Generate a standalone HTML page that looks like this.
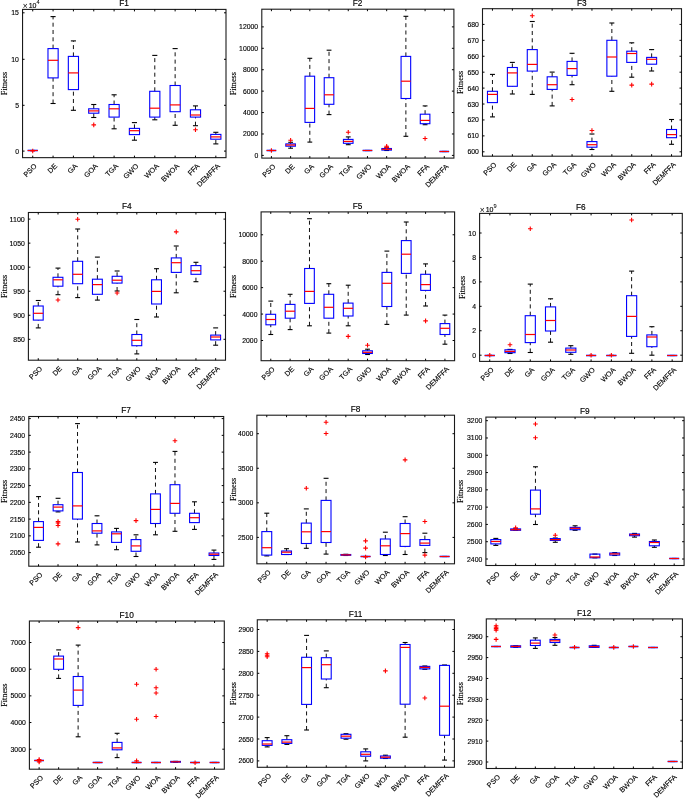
<!DOCTYPE html>
<html><head><meta charset="utf-8"><title>Box plots F1-F12</title>
<style>
html,body{margin:0;padding:0;background:#fff;}
svg{display:block;will-change:transform;}
text{font-family:"Liberation Sans",sans-serif;fill:#000;stroke:#000;stroke-width:0.15px;}
.w{stroke:#111;stroke-width:1;stroke-dasharray:4 3.3;fill:none;}
.c{stroke:#000;stroke-width:1.1;fill:none;}
.b{stroke:#0000ff;stroke-width:1.1;fill:none;}
.bl{stroke:#0000ff;stroke-width:1.6;fill:none;}
.mf{stroke:#ff0000;stroke-width:1;fill:none;}
.m{stroke:#ff0000;stroke-width:1.2;fill:none;}
.o{stroke:#ff0000;stroke-width:1.1;fill:none;}
.ax{stroke:#1a1a1a;stroke-width:1.1;fill:none;}
.tk{stroke:#000;stroke-width:1;fill:none;}
.yl{font-size:7.6px;text-anchor:end;}
.xl{font-size:7.2px;text-anchor:end;}
.ti{font-size:8.3px;text-anchor:middle;}
.yla{font-family:"Liberation Serif",serif;font-size:8.2px;text-anchor:middle;}
.ex{font-size:7.0px;}
.sup{font-size:5.6px;stroke-width:0.05px;}
.tm{font-size:8.4px;stroke-width:0;}
</style></head>
<body>
<svg width="685" height="799" viewBox="0 0 685 799">
<rect width="685" height="799" fill="#fff"/>
<line x1="30.18" y1="150.5" x2="35.27" y2="150.5" class="c"/><line x1="30.18" y1="150.5" x2="35.27" y2="150.5" class="c"/><line x1="27.64" y1="150.5" x2="37.81" y2="150.5" class="bl"/><line x1="27.64" y1="150.5" x2="37.81" y2="150.5" class="mf"/><path d="M30.42 151h4.6M32.72 148.7v4.6" class="o"/>
<line x1="53.07" y1="48.6" x2="53.07" y2="16.6" class="w"/><line x1="53.07" y1="103.5" x2="53.07" y2="77.9" class="w"/><line x1="50.52" y1="16.6" x2="55.61" y2="16.6" class="c"/><line x1="50.52" y1="103.5" x2="55.61" y2="103.5" class="c"/><rect x="47.98" y="48.6" width="10.17" height="29.3" class="b"/><line x1="47.98" y1="60.3" x2="58.15" y2="60.3" class="m"/>
<line x1="73.41" y1="56.4" x2="73.41" y2="40.9" class="w"/><line x1="73.41" y1="110.3" x2="73.41" y2="89.6" class="w"/><line x1="70.87" y1="40.9" x2="75.96" y2="40.9" class="c"/><line x1="70.87" y1="110.3" x2="75.96" y2="110.3" class="c"/><rect x="68.33" y="56.4" width="10.17" height="33.2" class="b"/><line x1="68.33" y1="72.9" x2="78.5" y2="72.9" class="m"/>
<line x1="93.76" y1="108.8" x2="93.76" y2="104.5" class="w"/><line x1="93.76" y1="117.5" x2="93.76" y2="113.2" class="w"/><line x1="91.21" y1="104.5" x2="96.3" y2="104.5" class="c"/><line x1="91.21" y1="117.5" x2="96.3" y2="117.5" class="c"/><rect x="88.67" y="108.8" width="10.17" height="4.4" class="b"/><line x1="88.67" y1="110.9" x2="98.84" y2="110.9" class="m"/><path d="M91.46 124.9h4.6M93.76 122.6v4.6" class="o"/>
<line x1="114.1" y1="104.5" x2="114.1" y2="94.8" class="w"/><line x1="114.1" y1="128.8" x2="114.1" y2="117.1" class="w"/><line x1="111.56" y1="94.8" x2="116.65" y2="94.8" class="c"/><line x1="111.56" y1="128.8" x2="116.65" y2="128.8" class="c"/><rect x="109.02" y="104.5" width="10.17" height="12.6" class="b"/><line x1="109.02" y1="108.8" x2="119.19" y2="108.8" class="m"/>
<line x1="134.45" y1="128.4" x2="134.45" y2="122.6" class="w"/><line x1="134.45" y1="140.2" x2="134.45" y2="134.6" class="w"/><line x1="131.9" y1="122.6" x2="136.99" y2="122.6" class="c"/><line x1="131.9" y1="140.2" x2="136.99" y2="140.2" class="c"/><rect x="129.36" y="128.4" width="10.17" height="6.2" class="b"/><line x1="129.36" y1="130.7" x2="139.53" y2="130.7" class="m"/>
<line x1="154.79" y1="91.3" x2="154.79" y2="55.4" class="w"/><line x1="154.79" y1="119.8" x2="154.79" y2="117.1" class="w"/><line x1="152.25" y1="55.4" x2="157.34" y2="55.4" class="c"/><line x1="152.25" y1="119.8" x2="157.34" y2="119.8" class="c"/><rect x="149.71" y="91.3" width="10.17" height="25.8" class="b"/><line x1="149.71" y1="108.2" x2="159.88" y2="108.2" class="m"/>
<line x1="175.14" y1="85.5" x2="175.14" y2="48.6" class="w"/><line x1="175.14" y1="125.3" x2="175.14" y2="111.7" class="w"/><line x1="172.59" y1="48.6" x2="177.68" y2="48.6" class="c"/><line x1="172.59" y1="125.3" x2="177.68" y2="125.3" class="c"/><rect x="170.05" y="85.5" width="10.17" height="26.2" class="b"/><line x1="170.05" y1="104.9" x2="180.22" y2="104.9" class="m"/>
<line x1="195.48" y1="109.8" x2="195.48" y2="105.9" class="w"/><line x1="195.48" y1="125.7" x2="195.48" y2="117.1" class="w"/><line x1="192.94" y1="105.9" x2="198.03" y2="105.9" class="c"/><line x1="192.94" y1="125.7" x2="198.03" y2="125.7" class="c"/><rect x="190.4" y="109.8" width="10.17" height="7.3" class="b"/><line x1="190.4" y1="115" x2="200.57" y2="115" class="m"/><path d="M193.18 129.7h4.6M195.48 127.4v4.6" class="o"/>
<line x1="215.83" y1="134.4" x2="215.83" y2="132.3" class="w"/><line x1="215.83" y1="143.9" x2="215.83" y2="139.2" class="w"/><line x1="213.28" y1="132.3" x2="218.37" y2="132.3" class="c"/><line x1="213.28" y1="143.9" x2="218.37" y2="143.9" class="c"/><rect x="210.74" y="134.4" width="10.17" height="4.8" class="b"/><line x1="210.74" y1="136.9" x2="220.91" y2="136.9" class="m"/>
<rect x="22.55" y="9.4" width="203.45" height="148.25" class="ax"/>
<path d="M32.72 157.65v-2M32.72 9.4v2M53.07 157.65v-2M53.07 9.4v2M73.41 157.65v-2M73.41 9.4v2M93.76 157.65v-2M93.76 9.4v2M114.1 157.65v-2M114.1 9.4v2M134.45 157.65v-2M134.45 9.4v2M154.79 157.65v-2M154.79 9.4v2M175.14 157.65v-2M175.14 9.4v2M195.48 157.65v-2M195.48 9.4v2M215.83 157.65v-2M215.83 9.4v2M22.55 151.1h2M226 151.1h-2M22.55 105.3h2M226 105.3h-2M22.55 59.3h2M226 59.3h-2M22.55 12.8h2M226 12.8h-2" class="tk"/>
<text x="18.95" y="153.6" class="yl" textLength="3.82" lengthAdjust="spacingAndGlyphs">0</text>
<text x="18.95" y="107.8" class="yl" textLength="3.82" lengthAdjust="spacingAndGlyphs">5</text>
<text x="18.95" y="61.8" class="yl" textLength="7.64" lengthAdjust="spacingAndGlyphs">10</text>
<text x="18.95" y="15.3" class="yl" textLength="7.64" lengthAdjust="spacingAndGlyphs">15</text>
<text x="37.22" y="166.65" class="xl" transform="rotate(-45 37.22 166.65)">PSO</text>
<text x="57.57" y="166.65" class="xl" transform="rotate(-45 57.57 166.65)">DE</text>
<text x="77.91" y="166.65" class="xl" transform="rotate(-45 77.91 166.65)">GA</text>
<text x="98.26" y="166.65" class="xl" transform="rotate(-45 98.26 166.65)">GOA</text>
<text x="118.6" y="166.65" class="xl" transform="rotate(-45 118.6 166.65)">TGA</text>
<text x="138.95" y="166.65" class="xl" transform="rotate(-45 138.95 166.65)">GWO</text>
<text x="159.29" y="166.65" class="xl" transform="rotate(-45 159.29 166.65)">WOA</text>
<text x="179.64" y="166.65" class="xl" transform="rotate(-45 179.64 166.65)">BWOA</text>
<text x="199.98" y="166.65" class="xl" transform="rotate(-45 199.98 166.65)">FFA</text>
<text x="220.33" y="166.65" class="xl" transform="rotate(-45 220.33 166.65)">DEMFFA</text>
<text x="124.08" y="6.3" class="ti">F1</text>
<text x="7.3" y="83.53" class="yla" transform="rotate(-90 7.3 83.53)">Fitness</text>
<text x="22.75" y="7.6" class="ex"><tspan class="tm" dy="1.2">&#215;</tspan><tspan dx="1" dy="-1.2">10</tspan><tspan dy="-3.6" class="sup">4</tspan></text>
<line x1="269" y1="150.5" x2="273.81" y2="150.5" class="c"/><line x1="269" y1="150.5" x2="273.81" y2="150.5" class="c"/><line x1="266.6" y1="150.5" x2="276.21" y2="150.5" class="bl"/><line x1="266.6" y1="150.5" x2="276.21" y2="150.5" class="mf"/><path d="M269.11 150.5h4.6M271.41 148.2v4.6" class="o"/>
<line x1="290.62" y1="143.9" x2="290.62" y2="142.3" class="w"/><line x1="290.62" y1="148.2" x2="290.62" y2="146.2" class="w"/><line x1="288.21" y1="142.3" x2="293.02" y2="142.3" class="c"/><line x1="288.21" y1="148.2" x2="293.02" y2="148.2" class="c"/><rect x="285.81" y="143.9" width="9.6" height="2.3" class="b"/><line x1="285.81" y1="145" x2="295.42" y2="145" class="m"/><path d="M288.31 140.2h4.6M290.62 137.9v4.6" class="o"/>
<line x1="309.82" y1="76.2" x2="309.82" y2="58.3" class="w"/><line x1="309.82" y1="142.1" x2="309.82" y2="122.4" class="w"/><line x1="307.42" y1="58.3" x2="312.23" y2="58.3" class="c"/><line x1="307.42" y1="142.1" x2="312.23" y2="142.1" class="c"/><rect x="305.02" y="76.2" width="9.6" height="46.2" class="b"/><line x1="305.02" y1="108.4" x2="314.63" y2="108.4" class="m"/>
<line x1="329.03" y1="77.7" x2="329.03" y2="50.2" class="w"/><line x1="329.03" y1="114.6" x2="329.03" y2="104.3" class="w"/><line x1="326.63" y1="50.2" x2="331.44" y2="50.2" class="c"/><line x1="326.63" y1="114.6" x2="331.44" y2="114.6" class="c"/><rect x="324.23" y="77.7" width="9.6" height="26.6" class="b"/><line x1="324.23" y1="94.8" x2="333.84" y2="94.8" class="m"/>
<line x1="348.25" y1="139.4" x2="348.25" y2="136.9" class="w"/><line x1="348.25" y1="144.7" x2="348.25" y2="143.3" class="w"/><line x1="345.84" y1="136.9" x2="350.65" y2="136.9" class="c"/><line x1="345.84" y1="144.7" x2="350.65" y2="144.7" class="c"/><rect x="343.44" y="139.4" width="9.6" height="3.9" class="b"/><line x1="343.44" y1="141.4" x2="353.05" y2="141.4" class="m"/><path d="M345.94 132.3h4.6M348.25 130v4.6" class="o"/>
<line x1="365.05" y1="150.5" x2="369.86" y2="150.5" class="c"/><line x1="365.05" y1="150.5" x2="369.86" y2="150.5" class="c"/><line x1="362.65" y1="150.5" x2="372.26" y2="150.5" class="bl"/><line x1="362.65" y1="150.5" x2="372.26" y2="150.5" class="mf"/>
<line x1="386.66" y1="148.5" x2="386.66" y2="147.8" class="w"/><line x1="384.26" y1="147.8" x2="389.07" y2="147.8" class="c"/><line x1="384.26" y1="150.5" x2="389.07" y2="150.5" class="c"/><rect x="381.86" y="148.5" width="9.6" height="1.6" class="b"/><line x1="381.86" y1="149.3" x2="391.47" y2="149.3" class="m"/><path d="M384.36 146.2h4.6M386.66 143.9v4.6" class="o"/><path d="M384.36 147.2h4.6M386.66 144.9v4.6" class="o"/>
<line x1="405.88" y1="56.4" x2="405.88" y2="16.3" class="w"/><line x1="405.88" y1="136.3" x2="405.88" y2="98.5" class="w"/><line x1="403.47" y1="16.3" x2="408.28" y2="16.3" class="c"/><line x1="403.47" y1="136.3" x2="408.28" y2="136.3" class="c"/><rect x="401.07" y="56.4" width="9.6" height="42.1" class="b"/><line x1="401.07" y1="81.2" x2="410.68" y2="81.2" class="m"/>
<line x1="425.08" y1="114.2" x2="425.08" y2="105.9" class="w"/><line x1="425.08" y1="124.7" x2="425.08" y2="123.7" class="w"/><line x1="422.68" y1="105.9" x2="427.49" y2="105.9" class="c"/><line x1="422.68" y1="124.7" x2="427.49" y2="124.7" class="c"/><rect x="420.28" y="114.2" width="9.6" height="9.5" class="b"/><line x1="420.28" y1="120.4" x2="429.89" y2="120.4" class="m"/><path d="M422.78 138.5h4.6M425.08 136.2v4.6" class="o"/>
<line x1="441.89" y1="151.5" x2="446.7" y2="151.5" class="c"/><line x1="441.89" y1="151.5" x2="446.7" y2="151.5" class="c"/><line x1="439.49" y1="151.5" x2="449.1" y2="151.5" class="bl"/><line x1="439.49" y1="151.5" x2="449.1" y2="151.5" class="mf"/>
<rect x="261.8" y="9.2" width="192.1" height="148.9" class="ax"/>
<path d="M271.41 158.1v-2M271.41 9.2v2M290.62 158.1v-2M290.62 9.2v2M309.82 158.1v-2M309.82 9.2v2M329.03 158.1v-2M329.03 9.2v2M348.25 158.1v-2M348.25 9.2v2M367.45 158.1v-2M367.45 9.2v2M386.66 158.1v-2M386.66 9.2v2M405.88 158.1v-2M405.88 9.2v2M425.08 158.1v-2M425.08 9.2v2M444.29 158.1v-2M444.29 9.2v2M261.8 155.4h2M453.9 155.4h-2M261.8 133.98h2M453.9 133.98h-2M261.8 112.56h2M453.9 112.56h-2M261.8 91.14h2M453.9 91.14h-2M261.8 69.72h2M453.9 69.72h-2M261.8 48.3h2M453.9 48.3h-2M261.8 26.88h2M453.9 26.88h-2" class="tk"/>
<text x="258.2" y="157.9" class="yl" textLength="3.82" lengthAdjust="spacingAndGlyphs">0</text>
<text x="258.2" y="136.48" class="yl" textLength="15.28" lengthAdjust="spacingAndGlyphs">2000</text>
<text x="258.2" y="115.06" class="yl" textLength="15.28" lengthAdjust="spacingAndGlyphs">4000</text>
<text x="258.2" y="93.64" class="yl" textLength="15.28" lengthAdjust="spacingAndGlyphs">6000</text>
<text x="258.2" y="72.22" class="yl" textLength="15.28" lengthAdjust="spacingAndGlyphs">8000</text>
<text x="258.2" y="50.8" class="yl" textLength="19.1" lengthAdjust="spacingAndGlyphs">10000</text>
<text x="258.2" y="29.38" class="yl" textLength="19.1" lengthAdjust="spacingAndGlyphs">12000</text>
<text x="275.91" y="167.1" class="xl" transform="rotate(-45 275.91 167.1)">PSO</text>
<text x="295.12" y="167.1" class="xl" transform="rotate(-45 295.12 167.1)">DE</text>
<text x="314.32" y="167.1" class="xl" transform="rotate(-45 314.32 167.1)">GA</text>
<text x="333.53" y="167.1" class="xl" transform="rotate(-45 333.53 167.1)">GOA</text>
<text x="352.75" y="167.1" class="xl" transform="rotate(-45 352.75 167.1)">TGA</text>
<text x="371.95" y="167.1" class="xl" transform="rotate(-45 371.95 167.1)">GWO</text>
<text x="391.16" y="167.1" class="xl" transform="rotate(-45 391.16 167.1)">WOA</text>
<text x="410.38" y="167.1" class="xl" transform="rotate(-45 410.38 167.1)">BWOA</text>
<text x="429.58" y="167.1" class="xl" transform="rotate(-45 429.58 167.1)">FFA</text>
<text x="448.79" y="167.1" class="xl" transform="rotate(-45 448.79 167.1)">DEMFFA</text>
<text x="357.65" y="6.1" class="ti">F2</text>
<text x="236.3" y="83.65" class="yla" transform="rotate(-90 236.3 83.65)">Fitness</text>
<line x1="492.45" y1="91.3" x2="492.45" y2="74.4" class="w"/><line x1="492.45" y1="116.9" x2="492.45" y2="102.6" class="w"/><line x1="489.96" y1="74.4" x2="494.94" y2="74.4" class="c"/><line x1="489.96" y1="116.9" x2="494.94" y2="116.9" class="c"/><rect x="487.47" y="91.3" width="9.95" height="11.3" class="b"/><line x1="487.47" y1="94.4" x2="497.43" y2="94.4" class="m"/>
<line x1="512.35" y1="67.5" x2="512.35" y2="62.4" class="w"/><line x1="512.35" y1="94" x2="512.35" y2="86.3" class="w"/><line x1="509.86" y1="62.4" x2="514.84" y2="62.4" class="c"/><line x1="509.86" y1="94" x2="514.84" y2="94" class="c"/><rect x="507.38" y="67.5" width="9.95" height="18.8" class="b"/><line x1="507.38" y1="72.9" x2="517.33" y2="72.9" class="m"/>
<line x1="532.25" y1="49.6" x2="532.25" y2="21.5" class="w"/><line x1="532.25" y1="94.4" x2="532.25" y2="71.1" class="w"/><line x1="529.76" y1="21.5" x2="534.74" y2="21.5" class="c"/><line x1="529.76" y1="94.4" x2="534.74" y2="94.4" class="c"/><rect x="527.27" y="49.6" width="9.95" height="21.5" class="b"/><line x1="527.27" y1="64.4" x2="537.23" y2="64.4" class="m"/><path d="M529.95 15.7h4.6M532.25 13.4v4.6" class="o"/>
<line x1="552.15" y1="76.8" x2="552.15" y2="72.1" class="w"/><line x1="552.15" y1="105.9" x2="552.15" y2="89.4" class="w"/><line x1="549.66" y1="72.1" x2="554.64" y2="72.1" class="c"/><line x1="549.66" y1="105.9" x2="554.64" y2="105.9" class="c"/><rect x="547.17" y="76.8" width="9.95" height="12.6" class="b"/><line x1="547.17" y1="84.7" x2="557.12" y2="84.7" class="m"/>
<line x1="572.05" y1="61.4" x2="572.05" y2="53.3" class="w"/><line x1="572.05" y1="84.7" x2="572.05" y2="75.4" class="w"/><line x1="569.56" y1="53.3" x2="574.54" y2="53.3" class="c"/><line x1="569.56" y1="84.7" x2="574.54" y2="84.7" class="c"/><rect x="567.07" y="61.4" width="9.95" height="14" class="b"/><line x1="567.07" y1="68.6" x2="577.02" y2="68.6" class="m"/><path d="M569.75 99.5h4.6M572.05 97.2v4.6" class="o"/>
<line x1="591.95" y1="141.6" x2="591.95" y2="134" class="w"/><line x1="591.95" y1="149.5" x2="591.95" y2="147.2" class="w"/><line x1="589.46" y1="134" x2="594.44" y2="134" class="c"/><line x1="589.46" y1="149.5" x2="594.44" y2="149.5" class="c"/><rect x="586.98" y="141.6" width="9.95" height="5.6" class="b"/><line x1="586.98" y1="144.7" x2="596.93" y2="144.7" class="m"/><path d="M589.65 130.5h4.6M591.95 128.2v4.6" class="o"/>
<line x1="611.85" y1="40.3" x2="611.85" y2="23" class="w"/><line x1="611.85" y1="91.3" x2="611.85" y2="76.2" class="w"/><line x1="609.36" y1="23" x2="614.34" y2="23" class="c"/><line x1="609.36" y1="91.3" x2="614.34" y2="91.3" class="c"/><rect x="606.88" y="40.3" width="9.95" height="35.9" class="b"/><line x1="606.88" y1="57" x2="616.83" y2="57" class="m"/>
<line x1="631.75" y1="51.2" x2="631.75" y2="42.8" class="w"/><line x1="631.75" y1="77.2" x2="631.75" y2="62.4" class="w"/><line x1="629.26" y1="42.8" x2="634.24" y2="42.8" class="c"/><line x1="629.26" y1="77.2" x2="634.24" y2="77.2" class="c"/><rect x="626.77" y="51.2" width="9.95" height="11.2" class="b"/><line x1="626.77" y1="53.5" x2="636.73" y2="53.5" class="m"/><path d="M629.45 85.1h4.6M631.75 82.8v4.6" class="o"/>
<line x1="651.65" y1="57.4" x2="651.65" y2="49.6" class="w"/><line x1="651.65" y1="71" x2="651.65" y2="64.2" class="w"/><line x1="649.16" y1="49.6" x2="654.14" y2="49.6" class="c"/><line x1="649.16" y1="71" x2="654.14" y2="71" class="c"/><rect x="646.67" y="57.4" width="9.95" height="6.8" class="b"/><line x1="646.67" y1="59.3" x2="656.62" y2="59.3" class="m"/><path d="M649.35 84.1h4.6M651.65 81.8v4.6" class="o"/>
<line x1="671.55" y1="129.5" x2="671.55" y2="119.5" class="w"/><line x1="671.55" y1="144.3" x2="671.55" y2="137.7" class="w"/><line x1="669.06" y1="119.5" x2="674.04" y2="119.5" class="c"/><line x1="669.06" y1="144.3" x2="674.04" y2="144.3" class="c"/><rect x="666.57" y="129.5" width="9.95" height="8.2" class="b"/><line x1="666.57" y1="134.6" x2="676.52" y2="134.6" class="m"/>
<rect x="482.5" y="8.7" width="199" height="147.5" class="ax"/>
<path d="M492.45 156.2v-2M492.45 8.7v2M512.35 156.2v-2M512.35 8.7v2M532.25 156.2v-2M532.25 8.7v2M552.15 156.2v-2M552.15 8.7v2M572.05 156.2v-2M572.05 8.7v2M591.95 156.2v-2M591.95 8.7v2M611.85 156.2v-2M611.85 8.7v2M631.75 156.2v-2M631.75 8.7v2M651.65 156.2v-2M651.65 8.7v2M671.55 156.2v-2M671.55 8.7v2M482.5 151.8h2M681.5 151.8h-2M482.5 135.88h2M681.5 135.88h-2M482.5 119.95h2M681.5 119.95h-2M482.5 104.03h2M681.5 104.03h-2M482.5 88.1h2M681.5 88.1h-2M482.5 72.18h2M681.5 72.18h-2M482.5 56.25h2M681.5 56.25h-2M482.5 40.33h2M681.5 40.33h-2M482.5 24.4h2M681.5 24.4h-2" class="tk"/>
<text x="478.9" y="154.3" class="yl" textLength="11.46" lengthAdjust="spacingAndGlyphs">600</text>
<text x="478.9" y="138.38" class="yl" textLength="11.46" lengthAdjust="spacingAndGlyphs">610</text>
<text x="478.9" y="122.45" class="yl" textLength="11.46" lengthAdjust="spacingAndGlyphs">620</text>
<text x="478.9" y="106.53" class="yl" textLength="11.46" lengthAdjust="spacingAndGlyphs">630</text>
<text x="478.9" y="90.6" class="yl" textLength="11.46" lengthAdjust="spacingAndGlyphs">640</text>
<text x="478.9" y="74.68" class="yl" textLength="11.46" lengthAdjust="spacingAndGlyphs">650</text>
<text x="478.9" y="58.75" class="yl" textLength="11.46" lengthAdjust="spacingAndGlyphs">660</text>
<text x="478.9" y="42.83" class="yl" textLength="11.46" lengthAdjust="spacingAndGlyphs">670</text>
<text x="478.9" y="26.9" class="yl" textLength="11.46" lengthAdjust="spacingAndGlyphs">680</text>
<text x="496.95" y="165.2" class="xl" transform="rotate(-45 496.95 165.2)">PSO</text>
<text x="516.85" y="165.2" class="xl" transform="rotate(-45 516.85 165.2)">DE</text>
<text x="536.75" y="165.2" class="xl" transform="rotate(-45 536.75 165.2)">GA</text>
<text x="556.65" y="165.2" class="xl" transform="rotate(-45 556.65 165.2)">GOA</text>
<text x="576.55" y="165.2" class="xl" transform="rotate(-45 576.55 165.2)">TGA</text>
<text x="596.45" y="165.2" class="xl" transform="rotate(-45 596.45 165.2)">GWO</text>
<text x="616.35" y="165.2" class="xl" transform="rotate(-45 616.35 165.2)">WOA</text>
<text x="636.25" y="165.2" class="xl" transform="rotate(-45 636.25 165.2)">BWOA</text>
<text x="656.15" y="165.2" class="xl" transform="rotate(-45 656.15 165.2)">FFA</text>
<text x="676.05" y="165.2" class="xl" transform="rotate(-45 676.05 165.2)">DEMFFA</text>
<text x="581.8" y="5.6" class="ti">F3</text>
<text x="463.4" y="82.45" class="yla" transform="rotate(-90 463.4 82.45)">Fitness</text>
<line x1="38.25" y1="306" x2="38.25" y2="300.5" class="w"/><line x1="38.25" y1="327.9" x2="38.25" y2="320.1" class="w"/><line x1="35.79" y1="300.5" x2="40.72" y2="300.5" class="c"/><line x1="35.79" y1="327.9" x2="40.72" y2="327.9" class="c"/><rect x="33.33" y="306" width="9.86" height="14.1" class="b"/><line x1="33.33" y1="313.3" x2="43.18" y2="313.3" class="m"/>
<line x1="57.97" y1="277.3" x2="57.97" y2="268.1" class="w"/><line x1="57.97" y1="294.7" x2="57.97" y2="286.2" class="w"/><line x1="55.5" y1="268.1" x2="60.43" y2="268.1" class="c"/><line x1="55.5" y1="294.7" x2="60.43" y2="294.7" class="c"/><rect x="53.04" y="277.3" width="9.86" height="8.9" class="b"/><line x1="53.04" y1="279.8" x2="62.89" y2="279.8" class="m"/><path d="M55.67 300h4.6M57.97 297.7v4.6" class="o"/>
<line x1="77.68" y1="261.3" x2="77.68" y2="229" class="w"/><line x1="77.68" y1="297.6" x2="77.68" y2="283.7" class="w"/><line x1="75.21" y1="229" x2="80.14" y2="229" class="c"/><line x1="75.21" y1="297.6" x2="80.14" y2="297.6" class="c"/><rect x="72.75" y="261.3" width="9.86" height="22.4" class="b"/><line x1="72.75" y1="274.3" x2="82.6" y2="274.3" class="m"/><path d="M75.38 219.3h4.6M77.68 217v4.6" class="o"/>
<line x1="97.38" y1="279.2" x2="97.38" y2="257.1" class="w"/><line x1="97.38" y1="300.1" x2="97.38" y2="294.3" class="w"/><line x1="94.92" y1="257.1" x2="99.85" y2="257.1" class="c"/><line x1="94.92" y1="300.1" x2="99.85" y2="300.1" class="c"/><rect x="92.46" y="279.2" width="9.86" height="15.1" class="b"/><line x1="92.46" y1="284.6" x2="102.31" y2="284.6" class="m"/>
<line x1="117.09" y1="276.3" x2="117.09" y2="271" class="w"/><line x1="117.09" y1="291" x2="117.09" y2="283.1" class="w"/><line x1="114.63" y1="271" x2="119.56" y2="271" class="c"/><line x1="114.63" y1="291" x2="119.56" y2="291" class="c"/><rect x="112.17" y="276.3" width="9.86" height="6.8" class="b"/><line x1="112.17" y1="280.2" x2="122.02" y2="280.2" class="m"/><path d="M114.8 293h4.6M117.09 290.7v4.6" class="o"/>
<line x1="136.81" y1="334.5" x2="136.81" y2="319.5" class="w"/><line x1="136.81" y1="353.9" x2="136.81" y2="345.7" class="w"/><line x1="134.34" y1="319.5" x2="139.27" y2="319.5" class="c"/><line x1="134.34" y1="353.9" x2="139.27" y2="353.9" class="c"/><rect x="131.88" y="334.5" width="9.86" height="11.2" class="b"/><line x1="131.88" y1="340.3" x2="141.73" y2="340.3" class="m"/>
<line x1="156.52" y1="279.8" x2="156.52" y2="268.7" class="w"/><line x1="156.52" y1="317" x2="156.52" y2="304" class="w"/><line x1="154.05" y1="268.7" x2="158.98" y2="268.7" class="c"/><line x1="154.05" y1="317" x2="158.98" y2="317" class="c"/><rect x="151.59" y="279.8" width="9.86" height="24.2" class="b"/><line x1="151.59" y1="291.4" x2="161.44" y2="291.4" class="m"/>
<line x1="176.23" y1="257.9" x2="176.23" y2="246" class="w"/><line x1="176.23" y1="292.8" x2="176.23" y2="272.4" class="w"/><line x1="173.76" y1="246" x2="178.69" y2="246" class="c"/><line x1="173.76" y1="292.8" x2="178.69" y2="292.8" class="c"/><rect x="171.3" y="257.9" width="9.86" height="14.5" class="b"/><line x1="171.3" y1="262.7" x2="181.15" y2="262.7" class="m"/><path d="M173.93 231.9h4.6M176.23 229.6v4.6" class="o"/>
<line x1="195.94" y1="265.6" x2="195.94" y2="262.3" class="w"/><line x1="195.94" y1="281.7" x2="195.94" y2="274.3" class="w"/><line x1="193.47" y1="262.3" x2="198.4" y2="262.3" class="c"/><line x1="193.47" y1="281.7" x2="198.4" y2="281.7" class="c"/><rect x="191.01" y="265.6" width="9.86" height="8.7" class="b"/><line x1="191.01" y1="270.7" x2="200.86" y2="270.7" class="m"/>
<line x1="215.65" y1="335.1" x2="215.65" y2="327.9" class="w"/><line x1="215.65" y1="345.2" x2="215.65" y2="339.9" class="w"/><line x1="213.18" y1="327.9" x2="218.11" y2="327.9" class="c"/><line x1="213.18" y1="345.2" x2="218.11" y2="345.2" class="c"/><rect x="210.72" y="335.1" width="9.86" height="4.8" class="b"/><line x1="210.72" y1="337" x2="220.57" y2="337" class="m"/>
<rect x="28.4" y="212.5" width="197.1" height="147.7" class="ax"/>
<path d="M38.25 360.2v-2M38.25 212.5v2M57.97 360.2v-2M57.97 212.5v2M77.68 360.2v-2M77.68 212.5v2M97.38 360.2v-2M97.38 212.5v2M117.09 360.2v-2M117.09 212.5v2M136.81 360.2v-2M136.81 212.5v2M156.52 360.2v-2M156.52 212.5v2M176.23 360.2v-2M176.23 212.5v2M195.94 360.2v-2M195.94 212.5v2M215.65 360.2v-2M215.65 212.5v2M28.4 339.3h2M225.5 339.3h-2M28.4 315.26h2M225.5 315.26h-2M28.4 291.22h2M225.5 291.22h-2M28.4 267.18h2M225.5 267.18h-2M28.4 243.14h2M225.5 243.14h-2M28.4 219.1h2M225.5 219.1h-2" class="tk"/>
<text x="24.8" y="341.8" class="yl" textLength="11.46" lengthAdjust="spacingAndGlyphs">850</text>
<text x="24.8" y="317.76" class="yl" textLength="11.46" lengthAdjust="spacingAndGlyphs">900</text>
<text x="24.8" y="293.72" class="yl" textLength="11.46" lengthAdjust="spacingAndGlyphs">950</text>
<text x="24.8" y="269.68" class="yl" textLength="15.28" lengthAdjust="spacingAndGlyphs">1000</text>
<text x="24.8" y="245.64" class="yl" textLength="15.28" lengthAdjust="spacingAndGlyphs">1050</text>
<text x="24.8" y="221.6" class="yl" textLength="15.28" lengthAdjust="spacingAndGlyphs">1100</text>
<text x="42.75" y="369.2" class="xl" transform="rotate(-45 42.75 369.2)">PSO</text>
<text x="62.47" y="369.2" class="xl" transform="rotate(-45 62.47 369.2)">DE</text>
<text x="82.18" y="369.2" class="xl" transform="rotate(-45 82.18 369.2)">GA</text>
<text x="101.88" y="369.2" class="xl" transform="rotate(-45 101.88 369.2)">GOA</text>
<text x="121.59" y="369.2" class="xl" transform="rotate(-45 121.59 369.2)">TGA</text>
<text x="141.31" y="369.2" class="xl" transform="rotate(-45 141.31 369.2)">GWO</text>
<text x="161.02" y="369.2" class="xl" transform="rotate(-45 161.02 369.2)">WOA</text>
<text x="180.73" y="369.2" class="xl" transform="rotate(-45 180.73 369.2)">BWOA</text>
<text x="200.44" y="369.2" class="xl" transform="rotate(-45 200.44 369.2)">FFA</text>
<text x="220.15" y="369.2" class="xl" transform="rotate(-45 220.15 369.2)">DEMFFA</text>
<text x="126.75" y="209.4" class="ti">F4</text>
<text x="6.7" y="286.35" class="yla" transform="rotate(-90 6.7 286.35)">Fitness</text>
<line x1="270.78" y1="314.3" x2="270.78" y2="301.1" class="w"/><line x1="270.78" y1="334.5" x2="270.78" y2="324.8" class="w"/><line x1="268.36" y1="301.1" x2="273.19" y2="301.1" class="c"/><line x1="268.36" y1="334.5" x2="273.19" y2="334.5" class="c"/><rect x="265.94" y="314.3" width="9.68" height="10.5" class="b"/><line x1="265.94" y1="319.5" x2="275.61" y2="319.5" class="m"/>
<line x1="290.12" y1="304.4" x2="290.12" y2="294.3" class="w"/><line x1="290.12" y1="329.6" x2="290.12" y2="318.2" class="w"/><line x1="287.71" y1="294.3" x2="292.54" y2="294.3" class="c"/><line x1="287.71" y1="329.6" x2="292.54" y2="329.6" class="c"/><rect x="285.29" y="304.4" width="9.68" height="13.8" class="b"/><line x1="285.29" y1="311.2" x2="294.96" y2="311.2" class="m"/>
<line x1="309.48" y1="268.5" x2="309.48" y2="218.7" class="w"/><line x1="309.48" y1="325.8" x2="309.48" y2="303.4" class="w"/><line x1="307.06" y1="218.7" x2="311.89" y2="218.7" class="c"/><line x1="307.06" y1="325.8" x2="311.89" y2="325.8" class="c"/><rect x="304.64" y="268.5" width="9.68" height="34.9" class="b"/><line x1="304.64" y1="291.4" x2="314.31" y2="291.4" class="m"/>
<line x1="328.83" y1="294.3" x2="328.83" y2="283.7" class="w"/><line x1="328.83" y1="333.1" x2="328.83" y2="318.2" class="w"/><line x1="326.41" y1="283.7" x2="331.24" y2="283.7" class="c"/><line x1="326.41" y1="333.1" x2="331.24" y2="333.1" class="c"/><rect x="323.99" y="294.3" width="9.68" height="23.9" class="b"/><line x1="323.99" y1="307.3" x2="333.66" y2="307.3" class="m"/>
<line x1="348.18" y1="303.1" x2="348.18" y2="285.2" class="w"/><line x1="348.18" y1="325.8" x2="348.18" y2="316" class="w"/><line x1="345.76" y1="285.2" x2="350.59" y2="285.2" class="c"/><line x1="345.76" y1="325.8" x2="350.59" y2="325.8" class="c"/><rect x="343.34" y="303.1" width="9.68" height="12.9" class="b"/><line x1="343.34" y1="308.3" x2="353.01" y2="308.3" class="m"/><path d="M345.88 336.4h4.6M348.18 334.1v4.6" class="o"/>
<line x1="367.53" y1="350.8" x2="367.53" y2="349.2" class="w"/><line x1="367.53" y1="354.5" x2="367.53" y2="353.5" class="w"/><line x1="365.11" y1="349.2" x2="369.94" y2="349.2" class="c"/><line x1="365.11" y1="354.5" x2="369.94" y2="354.5" class="c"/><rect x="362.69" y="350.8" width="9.68" height="2.7" class="b"/><line x1="362.69" y1="352.3" x2="372.36" y2="352.3" class="m"/><path d="M365.23 345.3h4.6M367.53 343v4.6" class="o"/>
<line x1="386.88" y1="272.4" x2="386.88" y2="251.1" class="w"/><line x1="386.88" y1="324.4" x2="386.88" y2="306.5" class="w"/><line x1="384.46" y1="251.1" x2="389.29" y2="251.1" class="c"/><line x1="384.46" y1="324.4" x2="389.29" y2="324.4" class="c"/><rect x="382.04" y="272.4" width="9.68" height="34.1" class="b"/><line x1="382.04" y1="283.3" x2="391.71" y2="283.3" class="m"/>
<line x1="406.23" y1="240.6" x2="406.23" y2="222" class="w"/><line x1="406.23" y1="315.1" x2="406.23" y2="273.4" class="w"/><line x1="403.81" y1="222" x2="408.64" y2="222" class="c"/><line x1="403.81" y1="315.1" x2="408.64" y2="315.1" class="c"/><rect x="401.39" y="240.6" width="9.68" height="32.8" class="b"/><line x1="401.39" y1="254.2" x2="411.06" y2="254.2" class="m"/>
<line x1="425.58" y1="274.3" x2="425.58" y2="263.9" class="w"/><line x1="425.58" y1="306" x2="425.58" y2="290.4" class="w"/><line x1="423.16" y1="263.9" x2="427.99" y2="263.9" class="c"/><line x1="423.16" y1="306" x2="427.99" y2="306" class="c"/><rect x="420.74" y="274.3" width="9.68" height="16.1" class="b"/><line x1="420.74" y1="284.6" x2="430.41" y2="284.6" class="m"/><path d="M423.28 320.9h4.6M425.58 318.6v4.6" class="o"/>
<line x1="444.93" y1="323.6" x2="444.93" y2="315.1" class="w"/><line x1="444.93" y1="344.2" x2="444.93" y2="334.5" class="w"/><line x1="442.51" y1="315.1" x2="447.34" y2="315.1" class="c"/><line x1="442.51" y1="344.2" x2="447.34" y2="344.2" class="c"/><rect x="440.09" y="323.6" width="9.68" height="10.9" class="b"/><line x1="440.09" y1="328.3" x2="449.76" y2="328.3" class="m"/>
<rect x="261.1" y="211.9" width="193.5" height="148.8" class="ax"/>
<path d="M270.78 360.7v-2M270.78 211.9v2M290.12 360.7v-2M290.12 211.9v2M309.48 360.7v-2M309.48 211.9v2M328.83 360.7v-2M328.83 211.9v2M348.18 360.7v-2M348.18 211.9v2M367.53 360.7v-2M367.53 211.9v2M386.88 360.7v-2M386.88 211.9v2M406.23 360.7v-2M406.23 211.9v2M425.58 360.7v-2M425.58 211.9v2M444.93 360.7v-2M444.93 211.9v2M261.1 340.5h2M454.6 340.5h-2M261.1 314.07h2M454.6 314.07h-2M261.1 287.64h2M454.6 287.64h-2M261.1 261.21h2M454.6 261.21h-2M261.1 234.78h2M454.6 234.78h-2" class="tk"/>
<text x="257.5" y="343" class="yl" textLength="15.28" lengthAdjust="spacingAndGlyphs">2000</text>
<text x="257.5" y="316.57" class="yl" textLength="15.28" lengthAdjust="spacingAndGlyphs">4000</text>
<text x="257.5" y="290.14" class="yl" textLength="15.28" lengthAdjust="spacingAndGlyphs">6000</text>
<text x="257.5" y="263.71" class="yl" textLength="15.28" lengthAdjust="spacingAndGlyphs">8000</text>
<text x="257.5" y="237.28" class="yl" textLength="19.1" lengthAdjust="spacingAndGlyphs">10000</text>
<text x="275.28" y="369.7" class="xl" transform="rotate(-45 275.28 369.7)">PSO</text>
<text x="294.62" y="369.7" class="xl" transform="rotate(-45 294.62 369.7)">DE</text>
<text x="313.98" y="369.7" class="xl" transform="rotate(-45 313.98 369.7)">GA</text>
<text x="333.33" y="369.7" class="xl" transform="rotate(-45 333.33 369.7)">GOA</text>
<text x="352.68" y="369.7" class="xl" transform="rotate(-45 352.68 369.7)">TGA</text>
<text x="372.03" y="369.7" class="xl" transform="rotate(-45 372.03 369.7)">GWO</text>
<text x="391.38" y="369.7" class="xl" transform="rotate(-45 391.38 369.7)">WOA</text>
<text x="410.73" y="369.7" class="xl" transform="rotate(-45 410.73 369.7)">BWOA</text>
<text x="430.08" y="369.7" class="xl" transform="rotate(-45 430.08 369.7)">FFA</text>
<text x="449.43" y="369.7" class="xl" transform="rotate(-45 449.43 369.7)">DEMFFA</text>
<text x="357.65" y="208.8" class="ti">F5</text>
<text x="236" y="286.3" class="yla" transform="rotate(-90 236 286.3)">Fitness</text>
<line x1="487.2" y1="355.5" x2="492.27" y2="355.5" class="c"/><line x1="487.2" y1="355.5" x2="492.27" y2="355.5" class="c"/><line x1="484.67" y1="355.5" x2="494.8" y2="355.5" class="bl"/><line x1="484.67" y1="355.5" x2="494.8" y2="355.5" class="mf"/><path d="M487.44 355.2h4.6M489.74 352.9v4.6" class="o"/>
<line x1="510" y1="353.5" x2="510" y2="352.7" class="w"/><line x1="507.47" y1="349.4" x2="512.54" y2="349.4" class="c"/><line x1="507.47" y1="353.5" x2="512.54" y2="353.5" class="c"/><rect x="504.94" y="349.8" width="10.13" height="2.9" class="b"/><line x1="504.94" y1="351.4" x2="515.07" y2="351.4" class="m"/><path d="M507.7 344.8h4.6M510 342.5v4.6" class="o"/>
<line x1="530.27" y1="315.7" x2="530.27" y2="284.1" class="w"/><line x1="530.27" y1="352.5" x2="530.27" y2="342.6" class="w"/><line x1="527.74" y1="284.1" x2="532.81" y2="284.1" class="c"/><line x1="527.74" y1="352.5" x2="532.81" y2="352.5" class="c"/><rect x="525.21" y="315.7" width="10.13" height="26.9" class="b"/><line x1="525.21" y1="334.5" x2="535.34" y2="334.5" class="m"/><path d="M527.98 228.8h4.6M530.27 226.5v4.6" class="o"/>
<line x1="550.54" y1="306.9" x2="550.54" y2="298.8" class="w"/><line x1="550.54" y1="342.2" x2="550.54" y2="331" class="w"/><line x1="548.01" y1="298.8" x2="553.08" y2="298.8" class="c"/><line x1="548.01" y1="342.2" x2="553.08" y2="342.2" class="c"/><rect x="545.48" y="306.9" width="10.13" height="24.1" class="b"/><line x1="545.48" y1="320.5" x2="555.61" y2="320.5" class="m"/>
<line x1="570.81" y1="348.1" x2="570.81" y2="345.7" class="w"/><line x1="570.81" y1="354.3" x2="570.81" y2="352.3" class="w"/><line x1="568.28" y1="345.7" x2="573.35" y2="345.7" class="c"/><line x1="568.28" y1="354.3" x2="573.35" y2="354.3" class="c"/><rect x="565.75" y="348.1" width="10.13" height="4.2" class="b"/><line x1="565.75" y1="350" x2="575.88" y2="350" class="m"/>
<line x1="588.55" y1="355.5" x2="593.62" y2="355.5" class="c"/><line x1="588.55" y1="355.5" x2="593.62" y2="355.5" class="c"/><line x1="586.02" y1="355.5" x2="596.15" y2="355.5" class="bl"/><line x1="586.02" y1="355.5" x2="596.15" y2="355.5" class="mf"/><path d="M588.79 355.2h4.6M591.09 352.9v4.6" class="o"/>
<line x1="608.82" y1="355.5" x2="613.89" y2="355.5" class="c"/><line x1="608.82" y1="355.5" x2="613.89" y2="355.5" class="c"/><line x1="606.29" y1="355.5" x2="616.42" y2="355.5" class="bl"/><line x1="606.29" y1="355.5" x2="616.42" y2="355.5" class="mf"/><path d="M609.06 355.2h4.6M611.36 352.9v4.6" class="o"/>
<line x1="631.62" y1="295.7" x2="631.62" y2="271.1" class="w"/><line x1="631.62" y1="353.3" x2="631.62" y2="336.4" class="w"/><line x1="629.09" y1="271.1" x2="634.16" y2="271.1" class="c"/><line x1="629.09" y1="353.3" x2="634.16" y2="353.3" class="c"/><rect x="626.56" y="295.7" width="10.13" height="40.7" class="b"/><line x1="626.56" y1="316.4" x2="636.69" y2="316.4" class="m"/><path d="M629.33 220h4.6M631.62 217.7v4.6" class="o"/>
<line x1="651.89" y1="334.9" x2="651.89" y2="326.7" class="w"/><line x1="651.89" y1="355.2" x2="651.89" y2="346.7" class="w"/><line x1="649.36" y1="326.7" x2="654.43" y2="326.7" class="c"/><line x1="649.36" y1="355.2" x2="654.43" y2="355.2" class="c"/><rect x="646.83" y="334.9" width="10.13" height="11.8" class="b"/><line x1="646.83" y1="337" x2="656.96" y2="337" class="m"/>
<line x1="669.63" y1="355.5" x2="674.7" y2="355.5" class="c"/><line x1="669.63" y1="355.5" x2="674.7" y2="355.5" class="c"/><line x1="667.1" y1="355.5" x2="677.23" y2="355.5" class="bl"/><line x1="667.1" y1="355.5" x2="677.23" y2="355.5" class="mf"/>
<rect x="479.6" y="213.4" width="202.7" height="148" class="ax"/>
<path d="M489.74 361.4v-2M489.74 213.4v2M510 361.4v-2M510 213.4v2M530.27 361.4v-2M530.27 213.4v2M550.54 361.4v-2M550.54 213.4v2M570.81 361.4v-2M570.81 213.4v2M591.09 361.4v-2M591.09 213.4v2M611.36 361.4v-2M611.36 213.4v2M631.62 361.4v-2M631.62 213.4v2M651.89 361.4v-2M651.89 213.4v2M672.16 361.4v-2M672.16 213.4v2M479.6 355.2h2M682.3 355.2h-2M479.6 330.76h2M682.3 330.76h-2M479.6 306.32h2M682.3 306.32h-2M479.6 281.88h2M682.3 281.88h-2M479.6 257.44h2M682.3 257.44h-2M479.6 233h2M682.3 233h-2" class="tk"/>
<text x="476" y="357.7" class="yl" textLength="3.82" lengthAdjust="spacingAndGlyphs">0</text>
<text x="476" y="333.26" class="yl" textLength="3.82" lengthAdjust="spacingAndGlyphs">2</text>
<text x="476" y="308.82" class="yl" textLength="3.82" lengthAdjust="spacingAndGlyphs">4</text>
<text x="476" y="284.38" class="yl" textLength="3.82" lengthAdjust="spacingAndGlyphs">6</text>
<text x="476" y="259.94" class="yl" textLength="3.82" lengthAdjust="spacingAndGlyphs">8</text>
<text x="476" y="235.5" class="yl" textLength="7.64" lengthAdjust="spacingAndGlyphs">10</text>
<text x="494.24" y="370.4" class="xl" transform="rotate(-45 494.24 370.4)">PSO</text>
<text x="514.5" y="370.4" class="xl" transform="rotate(-45 514.5 370.4)">DE</text>
<text x="534.77" y="370.4" class="xl" transform="rotate(-45 534.77 370.4)">GA</text>
<text x="555.04" y="370.4" class="xl" transform="rotate(-45 555.04 370.4)">GOA</text>
<text x="575.31" y="370.4" class="xl" transform="rotate(-45 575.31 370.4)">TGA</text>
<text x="595.59" y="370.4" class="xl" transform="rotate(-45 595.59 370.4)">GWO</text>
<text x="615.86" y="370.4" class="xl" transform="rotate(-45 615.86 370.4)">WOA</text>
<text x="636.12" y="370.4" class="xl" transform="rotate(-45 636.12 370.4)">BWOA</text>
<text x="656.39" y="370.4" class="xl" transform="rotate(-45 656.39 370.4)">FFA</text>
<text x="676.66" y="370.4" class="xl" transform="rotate(-45 676.66 370.4)">DEMFFA</text>
<text x="580.75" y="210.3" class="ti">F6</text>
<text x="465" y="287.4" class="yla" transform="rotate(-90 465 287.4)">Fitness</text>
<text x="479.8" y="211.6" class="ex"><tspan class="tm" dy="1.2">&#215;</tspan><tspan dx="1" dy="-1.2">10</tspan><tspan dy="-3.6" class="sup">9</tspan></text>
<line x1="38.55" y1="521.6" x2="38.55" y2="496.6" class="w"/><line x1="38.55" y1="547.2" x2="38.55" y2="540.4" class="w"/><line x1="36.11" y1="496.6" x2="40.98" y2="496.6" class="c"/><line x1="36.11" y1="547.2" x2="40.98" y2="547.2" class="c"/><rect x="33.67" y="521.6" width="9.74" height="18.8" class="b"/><line x1="33.67" y1="527.4" x2="43.42" y2="527.4" class="m"/>
<line x1="58.03" y1="504.7" x2="58.03" y2="498.3" class="w"/><line x1="58.03" y1="511.9" x2="58.03" y2="510.9" class="w"/><line x1="55.6" y1="498.3" x2="60.47" y2="498.3" class="c"/><line x1="55.6" y1="511.9" x2="60.47" y2="511.9" class="c"/><rect x="53.16" y="504.7" width="9.74" height="6.2" class="b"/><line x1="53.16" y1="507.1" x2="62.91" y2="507.1" class="m"/><path d="M55.73 521.6h4.6M58.03 519.3v4.6" class="o"/><path d="M55.73 523h4.6M58.03 520.7v4.6" class="o"/><path d="M55.73 525.5h4.6M58.03 523.2v4.6" class="o"/><path d="M55.73 543.9h4.6M58.03 541.6v4.6" class="o"/>
<line x1="77.52" y1="472.5" x2="77.52" y2="423.6" class="w"/><line x1="77.52" y1="542" x2="77.52" y2="519.1" class="w"/><line x1="75.09" y1="423.6" x2="79.96" y2="423.6" class="c"/><line x1="75.09" y1="542" x2="79.96" y2="542" class="c"/><rect x="72.65" y="472.5" width="9.74" height="46.6" class="b"/><line x1="72.65" y1="505.9" x2="82.4" y2="505.9" class="m"/>
<line x1="97.01" y1="523.5" x2="97.01" y2="515.8" class="w"/><line x1="97.01" y1="544.9" x2="97.01" y2="533.2" class="w"/><line x1="94.58" y1="515.8" x2="99.45" y2="515.8" class="c"/><line x1="94.58" y1="544.9" x2="99.45" y2="544.9" class="c"/><rect x="92.14" y="523.5" width="9.74" height="9.7" class="b"/><line x1="92.14" y1="530.9" x2="101.89" y2="530.9" class="m"/>
<line x1="116.5" y1="531.9" x2="116.5" y2="528.4" class="w"/><line x1="116.5" y1="549.7" x2="116.5" y2="542.4" class="w"/><line x1="114.07" y1="528.4" x2="118.94" y2="528.4" class="c"/><line x1="114.07" y1="549.7" x2="118.94" y2="549.7" class="c"/><rect x="111.63" y="531.9" width="9.74" height="10.5" class="b"/><line x1="111.63" y1="533.8" x2="121.38" y2="533.8" class="m"/>
<line x1="136" y1="539.6" x2="136" y2="534.8" class="w"/><line x1="136" y1="556.5" x2="136" y2="551.3" class="w"/><line x1="133.56" y1="534.8" x2="138.43" y2="534.8" class="c"/><line x1="133.56" y1="556.5" x2="138.43" y2="556.5" class="c"/><rect x="131.12" y="539.6" width="9.74" height="11.7" class="b"/><line x1="131.12" y1="545.9" x2="140.87" y2="545.9" class="m"/><path d="M133.69 520.6h4.6M136 518.3v4.6" class="o"/>
<line x1="155.48" y1="493.9" x2="155.48" y2="462.4" class="w"/><line x1="155.48" y1="534.8" x2="155.48" y2="523.5" class="w"/><line x1="153.05" y1="462.4" x2="157.92" y2="462.4" class="c"/><line x1="153.05" y1="534.8" x2="157.92" y2="534.8" class="c"/><rect x="150.61" y="493.9" width="9.74" height="29.6" class="b"/><line x1="150.61" y1="509.4" x2="160.36" y2="509.4" class="m"/>
<line x1="174.97" y1="484.7" x2="174.97" y2="451.4" class="w"/><line x1="174.97" y1="531.3" x2="174.97" y2="513.3" class="w"/><line x1="172.54" y1="451.4" x2="177.41" y2="451.4" class="c"/><line x1="172.54" y1="531.3" x2="177.41" y2="531.3" class="c"/><rect x="170.1" y="484.7" width="9.74" height="28.6" class="b"/><line x1="170.1" y1="503.4" x2="179.85" y2="503.4" class="m"/><path d="M172.67 440.7h4.6M174.97 438.4v4.6" class="o"/>
<line x1="194.47" y1="513.3" x2="194.47" y2="501.8" class="w"/><line x1="194.47" y1="529.4" x2="194.47" y2="522.6" class="w"/><line x1="192.03" y1="501.8" x2="196.9" y2="501.8" class="c"/><line x1="192.03" y1="529.4" x2="196.9" y2="529.4" class="c"/><rect x="189.59" y="513.3" width="9.74" height="9.3" class="b"/><line x1="189.59" y1="517.7" x2="199.34" y2="517.7" class="m"/>
<line x1="213.95" y1="553" x2="213.95" y2="550.1" class="w"/><line x1="213.95" y1="559.4" x2="213.95" y2="555.5" class="w"/><line x1="211.52" y1="550.1" x2="216.39" y2="550.1" class="c"/><line x1="211.52" y1="559.4" x2="216.39" y2="559.4" class="c"/><rect x="209.08" y="553" width="9.74" height="2.5" class="b"/><line x1="209.08" y1="554.2" x2="218.83" y2="554.2" class="m"/>
<rect x="28.8" y="416.5" width="194.9" height="149.7" class="ax"/>
<path d="M38.55 566.2v-2M38.55 416.5v2M58.03 566.2v-2M58.03 416.5v2M77.52 566.2v-2M77.52 416.5v2M97.01 566.2v-2M97.01 416.5v2M116.5 566.2v-2M116.5 416.5v2M136 566.2v-2M136 416.5v2M155.48 566.2v-2M155.48 416.5v2M174.97 566.2v-2M174.97 416.5v2M194.47 566.2v-2M194.47 416.5v2M213.95 566.2v-2M213.95 416.5v2M28.8 552.6h2M223.7 552.6h-2M28.8 535.85h2M223.7 535.85h-2M28.8 519.1h2M223.7 519.1h-2M28.8 502.35h2M223.7 502.35h-2M28.8 485.6h2M223.7 485.6h-2M28.8 468.85h2M223.7 468.85h-2M28.8 452.1h2M223.7 452.1h-2M28.8 435.35h2M223.7 435.35h-2M28.8 418.6h2M223.7 418.6h-2" class="tk"/>
<text x="25.2" y="555.1" class="yl" textLength="15.28" lengthAdjust="spacingAndGlyphs">2050</text>
<text x="25.2" y="538.35" class="yl" textLength="15.28" lengthAdjust="spacingAndGlyphs">2100</text>
<text x="25.2" y="521.6" class="yl" textLength="15.28" lengthAdjust="spacingAndGlyphs">2150</text>
<text x="25.2" y="504.85" class="yl" textLength="15.28" lengthAdjust="spacingAndGlyphs">2200</text>
<text x="25.2" y="488.1" class="yl" textLength="15.28" lengthAdjust="spacingAndGlyphs">2250</text>
<text x="25.2" y="471.35" class="yl" textLength="15.28" lengthAdjust="spacingAndGlyphs">2300</text>
<text x="25.2" y="454.6" class="yl" textLength="15.28" lengthAdjust="spacingAndGlyphs">2350</text>
<text x="25.2" y="437.85" class="yl" textLength="15.28" lengthAdjust="spacingAndGlyphs">2400</text>
<text x="25.2" y="421.1" class="yl" textLength="15.28" lengthAdjust="spacingAndGlyphs">2450</text>
<text x="43.05" y="575.2" class="xl" transform="rotate(-45 43.05 575.2)">PSO</text>
<text x="62.53" y="575.2" class="xl" transform="rotate(-45 62.53 575.2)">DE</text>
<text x="82.02" y="575.2" class="xl" transform="rotate(-45 82.02 575.2)">GA</text>
<text x="101.51" y="575.2" class="xl" transform="rotate(-45 101.51 575.2)">GOA</text>
<text x="121" y="575.2" class="xl" transform="rotate(-45 121 575.2)">TGA</text>
<text x="140.5" y="575.2" class="xl" transform="rotate(-45 140.5 575.2)">GWO</text>
<text x="159.98" y="575.2" class="xl" transform="rotate(-45 159.98 575.2)">WOA</text>
<text x="179.47" y="575.2" class="xl" transform="rotate(-45 179.47 575.2)">BWOA</text>
<text x="198.97" y="575.2" class="xl" transform="rotate(-45 198.97 575.2)">FFA</text>
<text x="218.45" y="575.2" class="xl" transform="rotate(-45 218.45 575.2)">DEMFFA</text>
<text x="126.05" y="413.4" class="ti">F7</text>
<text x="6.7" y="491.35" class="yla" transform="rotate(-90 6.7 491.35)">Fitness</text>
<line x1="266.78" y1="531.6" x2="266.78" y2="513.2" class="w"/><line x1="266.78" y1="555.9" x2="266.78" y2="555.1" class="w"/><line x1="264.31" y1="513.2" x2="269.25" y2="513.2" class="c"/><line x1="264.31" y1="555.9" x2="269.25" y2="555.9" class="c"/><rect x="261.84" y="531.6" width="9.88" height="23.5" class="b"/><line x1="261.84" y1="547.7" x2="271.72" y2="547.7" class="m"/>
<line x1="286.54" y1="551" x2="286.54" y2="548.7" class="w"/><line x1="284.07" y1="548.7" x2="289.01" y2="548.7" class="c"/><line x1="284.07" y1="554.5" x2="289.01" y2="554.5" class="c"/><rect x="281.6" y="551" width="9.88" height="3.5" class="b"/><line x1="281.6" y1="552.2" x2="291.48" y2="552.2" class="m"/>
<line x1="306.3" y1="523.1" x2="306.3" y2="508.9" class="w"/><line x1="306.3" y1="548.3" x2="306.3" y2="543.5" class="w"/><line x1="303.83" y1="508.9" x2="308.77" y2="508.9" class="c"/><line x1="303.83" y1="548.3" x2="308.77" y2="548.3" class="c"/><rect x="301.36" y="523.1" width="9.88" height="20.4" class="b"/><line x1="301.36" y1="531.8" x2="311.24" y2="531.8" class="m"/><path d="M304 488.2h4.6M306.3 485.9v4.6" class="o"/>
<line x1="326.06" y1="500.4" x2="326.06" y2="478.3" class="w"/><line x1="326.06" y1="554.1" x2="326.06" y2="542.5" class="w"/><line x1="323.59" y1="478.3" x2="328.53" y2="478.3" class="c"/><line x1="323.59" y1="554.1" x2="328.53" y2="554.1" class="c"/><rect x="321.12" y="500.4" width="9.88" height="42.1" class="b"/><line x1="321.12" y1="531.6" x2="331" y2="531.6" class="m"/><path d="M323.76 422.2h4.6M326.06 419.9v4.6" class="o"/><path d="M323.76 433.5h4.6M326.06 431.2v4.6" class="o"/>
<line x1="343.35" y1="554.3" x2="348.29" y2="554.3" class="c"/><line x1="343.35" y1="555.5" x2="348.29" y2="555.5" class="c"/><rect x="340.88" y="554.5" width="9.88" height="0.8" class="b"/><line x1="340.88" y1="554.9" x2="350.76" y2="554.9" class="m"/>
<line x1="363.11" y1="556.5" x2="368.05" y2="556.5" class="c"/><line x1="363.11" y1="556.5" x2="368.05" y2="556.5" class="c"/><line x1="360.64" y1="556.5" x2="370.52" y2="556.5" class="bl"/><line x1="360.64" y1="556.5" x2="370.52" y2="556.5" class="mf"/><path d="M363.28 540.9h4.6M365.58 538.6v4.6" class="o"/><path d="M363.28 548.1h4.6M365.58 545.8v4.6" class="o"/><path d="M363.28 557h4.6M365.58 554.7v4.6" class="o"/>
<line x1="385.34" y1="539" x2="385.34" y2="532.2" class="w"/><line x1="385.34" y1="555.5" x2="385.34" y2="554.5" class="w"/><line x1="382.87" y1="532.2" x2="387.81" y2="532.2" class="c"/><line x1="382.87" y1="555.5" x2="387.81" y2="555.5" class="c"/><rect x="380.4" y="539" width="9.88" height="15.5" class="b"/><line x1="380.4" y1="545.8" x2="390.28" y2="545.8" class="m"/>
<line x1="405.1" y1="523.5" x2="405.1" y2="516.7" class="w"/><line x1="405.1" y1="554.5" x2="405.1" y2="546.4" class="w"/><line x1="402.63" y1="516.7" x2="407.57" y2="516.7" class="c"/><line x1="402.63" y1="554.5" x2="407.57" y2="554.5" class="c"/><rect x="400.16" y="523.5" width="9.88" height="22.9" class="b"/><line x1="400.16" y1="533.6" x2="410.04" y2="533.6" class="m"/><path d="M402.8 459.9h4.6M405.1 457.6v4.6" class="o"/>
<line x1="424.86" y1="539.6" x2="424.86" y2="533.2" class="w"/><line x1="424.86" y1="552.6" x2="424.86" y2="545.4" class="w"/><line x1="422.39" y1="533.2" x2="427.33" y2="533.2" class="c"/><line x1="422.39" y1="552.6" x2="427.33" y2="552.6" class="c"/><rect x="419.92" y="539.6" width="9.88" height="5.8" class="b"/><line x1="419.92" y1="543.1" x2="429.8" y2="543.1" class="m"/><path d="M422.56 521.5h4.6M424.86 519.2v4.6" class="o"/><path d="M422.56 555.1h4.6M424.86 552.8v4.6" class="o"/>
<line x1="442.15" y1="556.5" x2="447.09" y2="556.5" class="c"/><line x1="442.15" y1="556.5" x2="447.09" y2="556.5" class="c"/><line x1="439.68" y1="556.5" x2="449.56" y2="556.5" class="bl"/><line x1="439.68" y1="556.5" x2="449.56" y2="556.5" class="mf"/>
<rect x="256.9" y="415.2" width="197.6" height="148.6" class="ax"/>
<path d="M266.78 563.8v-2M266.78 415.2v2M286.54 563.8v-2M286.54 415.2v2M306.3 563.8v-2M306.3 415.2v2M326.06 563.8v-2M326.06 415.2v2M345.82 563.8v-2M345.82 415.2v2M365.58 563.8v-2M365.58 415.2v2M385.34 563.8v-2M385.34 415.2v2M405.1 563.8v-2M405.1 415.2v2M424.86 563.8v-2M424.86 415.2v2M444.62 563.8v-2M444.62 415.2v2M256.9 537.4h2M454.5 537.4h-2M256.9 502.83h2M454.5 502.83h-2M256.9 468.26h2M454.5 468.26h-2M256.9 433.69h2M454.5 433.69h-2" class="tk"/>
<text x="253.3" y="539.9" class="yl" textLength="15.28" lengthAdjust="spacingAndGlyphs">2500</text>
<text x="253.3" y="505.33" class="yl" textLength="15.28" lengthAdjust="spacingAndGlyphs">3000</text>
<text x="253.3" y="470.76" class="yl" textLength="15.28" lengthAdjust="spacingAndGlyphs">3500</text>
<text x="253.3" y="436.19" class="yl" textLength="15.28" lengthAdjust="spacingAndGlyphs">4000</text>
<text x="271.28" y="572.8" class="xl" transform="rotate(-45 271.28 572.8)">PSO</text>
<text x="291.04" y="572.8" class="xl" transform="rotate(-45 291.04 572.8)">DE</text>
<text x="310.8" y="572.8" class="xl" transform="rotate(-45 310.8 572.8)">GA</text>
<text x="330.56" y="572.8" class="xl" transform="rotate(-45 330.56 572.8)">GOA</text>
<text x="350.32" y="572.8" class="xl" transform="rotate(-45 350.32 572.8)">TGA</text>
<text x="370.08" y="572.8" class="xl" transform="rotate(-45 370.08 572.8)">GWO</text>
<text x="389.84" y="572.8" class="xl" transform="rotate(-45 389.84 572.8)">WOA</text>
<text x="409.6" y="572.8" class="xl" transform="rotate(-45 409.6 572.8)">BWOA</text>
<text x="429.36" y="572.8" class="xl" transform="rotate(-45 429.36 572.8)">FFA</text>
<text x="449.12" y="572.8" class="xl" transform="rotate(-45 449.12 572.8)">DEMFFA</text>
<text x="355.5" y="412.1" class="ti">F8</text>
<text x="236" y="489.5" class="yla" transform="rotate(-90 236 489.5)">Fitness</text>
<line x1="495.81" y1="539.6" x2="495.81" y2="538.4" class="w"/><line x1="495.81" y1="545.4" x2="495.81" y2="543.9" class="w"/><line x1="493.33" y1="538.4" x2="498.29" y2="538.4" class="c"/><line x1="493.33" y1="545.4" x2="498.29" y2="545.4" class="c"/><rect x="490.86" y="539.6" width="9.91" height="4.3" class="b"/><line x1="490.86" y1="541.5" x2="500.76" y2="541.5" class="m"/>
<line x1="513.15" y1="528.9" x2="518.11" y2="528.9" class="c"/><line x1="513.15" y1="530.3" x2="518.11" y2="530.3" class="c"/><rect x="510.68" y="528.9" width="9.91" height="1.4" class="b"/><line x1="510.68" y1="529.7" x2="520.59" y2="529.7" class="m"/><path d="M513.33 527.9h4.6M515.63 525.6v4.6" class="o"/>
<line x1="535.45" y1="490.1" x2="535.45" y2="466.8" class="w"/><line x1="535.45" y1="524.5" x2="535.45" y2="514.2" class="w"/><line x1="532.97" y1="466.8" x2="537.93" y2="466.8" class="c"/><line x1="532.97" y1="524.5" x2="537.93" y2="524.5" class="c"/><rect x="530.5" y="490.1" width="9.91" height="24.1" class="b"/><line x1="530.5" y1="508.9" x2="540.41" y2="508.9" class="m"/><path d="M533.15 424h4.6M535.45 421.7v4.6" class="o"/><path d="M533.15 437.7h4.6M535.45 435.4v4.6" class="o"/>
<line x1="555.27" y1="538.6" x2="555.27" y2="538" class="w"/><line x1="555.27" y1="542.3" x2="555.27" y2="540.4" class="w"/><line x1="552.79" y1="538" x2="557.75" y2="538" class="c"/><line x1="552.79" y1="542.3" x2="557.75" y2="542.3" class="c"/><rect x="550.31" y="538.6" width="9.91" height="1.8" class="b"/><line x1="550.31" y1="539.6" x2="560.23" y2="539.6" class="m"/><path d="M552.97 535.3h4.6M555.27 533v4.6" class="o"/>
<line x1="575.09" y1="527.4" x2="575.09" y2="525.8" class="w"/><line x1="572.61" y1="525.8" x2="577.57" y2="525.8" class="c"/><line x1="572.61" y1="530.3" x2="577.57" y2="530.3" class="c"/><rect x="570.13" y="527.4" width="9.91" height="2.3" class="b"/><line x1="570.13" y1="528.3" x2="580.05" y2="528.3" class="m"/>
<line x1="592.43" y1="554.1" x2="597.39" y2="554.1" class="c"/><line x1="592.43" y1="557.8" x2="597.39" y2="557.8" class="c"/><rect x="589.95" y="554.1" width="9.91" height="3.7" class="b"/><line x1="589.95" y1="557" x2="599.87" y2="557" class="m"/>
<line x1="612.25" y1="552.6" x2="617.21" y2="552.6" class="c"/><line x1="612.25" y1="555.5" x2="617.21" y2="555.5" class="c"/><rect x="609.77" y="553" width="9.91" height="2.1" class="b"/><line x1="609.77" y1="553.9" x2="619.69" y2="553.9" class="m"/>
<line x1="634.55" y1="534" x2="634.55" y2="533.4" class="w"/><line x1="634.55" y1="537.1" x2="634.55" y2="535.7" class="w"/><line x1="632.07" y1="533.4" x2="637.03" y2="533.4" class="c"/><line x1="632.07" y1="537.1" x2="637.03" y2="537.1" class="c"/><rect x="629.59" y="534" width="9.91" height="1.7" class="b"/><line x1="629.59" y1="534.7" x2="639.5" y2="534.7" class="m"/>
<line x1="654.37" y1="541.5" x2="654.37" y2="540" class="w"/><line x1="654.37" y1="547.3" x2="654.37" y2="545.8" class="w"/><line x1="651.89" y1="540" x2="656.85" y2="540" class="c"/><line x1="651.89" y1="547.3" x2="656.85" y2="547.3" class="c"/><rect x="649.41" y="541.5" width="9.91" height="4.3" class="b"/><line x1="649.41" y1="542.5" x2="659.33" y2="542.5" class="m"/>
<line x1="671.71" y1="558.5" x2="676.67" y2="558.5" class="c"/><line x1="671.71" y1="558.5" x2="676.67" y2="558.5" class="c"/><line x1="669.24" y1="558.5" x2="679.15" y2="558.5" class="bl"/><line x1="669.24" y1="558.5" x2="679.15" y2="558.5" class="mf"/>
<rect x="485.9" y="417.1" width="198.2" height="148.4" class="ax"/>
<path d="M495.81 565.5v-2M495.81 417.1v2M515.63 565.5v-2M515.63 417.1v2M535.45 565.5v-2M535.45 417.1v2M555.27 565.5v-2M555.27 417.1v2M575.09 565.5v-2M575.09 417.1v2M594.91 565.5v-2M594.91 417.1v2M614.73 565.5v-2M614.73 417.1v2M634.55 565.5v-2M634.55 417.1v2M654.37 565.5v-2M654.37 417.1v2M674.19 565.5v-2M674.19 417.1v2M485.9 559h2M684.1 559h-2M485.9 541.71h2M684.1 541.71h-2M485.9 524.42h2M684.1 524.42h-2M485.9 507.13h2M684.1 507.13h-2M485.9 489.84h2M684.1 489.84h-2M485.9 472.55h2M684.1 472.55h-2M485.9 455.26h2M684.1 455.26h-2M485.9 437.97h2M684.1 437.97h-2M485.9 420.68h2M684.1 420.68h-2" class="tk"/>
<text x="482.3" y="561.5" class="yl" textLength="15.28" lengthAdjust="spacingAndGlyphs">2400</text>
<text x="482.3" y="544.21" class="yl" textLength="15.28" lengthAdjust="spacingAndGlyphs">2500</text>
<text x="482.3" y="526.92" class="yl" textLength="15.28" lengthAdjust="spacingAndGlyphs">2600</text>
<text x="482.3" y="509.63" class="yl" textLength="15.28" lengthAdjust="spacingAndGlyphs">2700</text>
<text x="482.3" y="492.34" class="yl" textLength="15.28" lengthAdjust="spacingAndGlyphs">2800</text>
<text x="482.3" y="475.05" class="yl" textLength="15.28" lengthAdjust="spacingAndGlyphs">2900</text>
<text x="482.3" y="457.76" class="yl" textLength="15.28" lengthAdjust="spacingAndGlyphs">3000</text>
<text x="482.3" y="440.47" class="yl" textLength="15.28" lengthAdjust="spacingAndGlyphs">3100</text>
<text x="482.3" y="423.18" class="yl" textLength="15.28" lengthAdjust="spacingAndGlyphs">3200</text>
<text x="500.31" y="574.5" class="xl" transform="rotate(-45 500.31 574.5)">PSO</text>
<text x="520.13" y="574.5" class="xl" transform="rotate(-45 520.13 574.5)">DE</text>
<text x="539.95" y="574.5" class="xl" transform="rotate(-45 539.95 574.5)">GA</text>
<text x="559.77" y="574.5" class="xl" transform="rotate(-45 559.77 574.5)">GOA</text>
<text x="579.59" y="574.5" class="xl" transform="rotate(-45 579.59 574.5)">TGA</text>
<text x="599.41" y="574.5" class="xl" transform="rotate(-45 599.41 574.5)">GWO</text>
<text x="619.23" y="574.5" class="xl" transform="rotate(-45 619.23 574.5)">WOA</text>
<text x="639.05" y="574.5" class="xl" transform="rotate(-45 639.05 574.5)">BWOA</text>
<text x="658.87" y="574.5" class="xl" transform="rotate(-45 658.87 574.5)">FFA</text>
<text x="678.69" y="574.5" class="xl" transform="rotate(-45 678.69 574.5)">DEMFFA</text>
<text x="584.8" y="414" class="ti">F9</text>
<text x="463.4" y="491.3" class="yla" transform="rotate(-90 463.4 491.3)">Fitness</text>
<line x1="36.71" y1="760.5" x2="41.58" y2="760.5" class="c"/><line x1="36.71" y1="760.5" x2="41.58" y2="760.5" class="c"/><line x1="34.27" y1="760.5" x2="44.02" y2="760.5" class="bl"/><line x1="34.27" y1="760.5" x2="44.02" y2="760.5" class="mf"/><path d="M36.84 759.5h4.6M39.14 757.2v4.6" class="o"/><path d="M36.84 760.9h4.6M39.14 758.6v4.6" class="o"/><path d="M36.84 762h4.6M39.14 759.7v4.6" class="o"/>
<line x1="58.64" y1="656.1" x2="58.64" y2="649.9" class="w"/><line x1="58.64" y1="678.4" x2="58.64" y2="669.3" class="w"/><line x1="56.2" y1="649.9" x2="61.07" y2="649.9" class="c"/><line x1="56.2" y1="678.4" x2="61.07" y2="678.4" class="c"/><rect x="53.76" y="656.1" width="9.75" height="13.2" class="b"/><line x1="53.76" y1="659" x2="63.51" y2="659" class="m"/>
<line x1="78.12" y1="676.5" x2="78.12" y2="645.1" class="w"/><line x1="78.12" y1="736.8" x2="78.12" y2="705.4" class="w"/><line x1="75.69" y1="645.1" x2="80.56" y2="645.1" class="c"/><line x1="75.69" y1="736.8" x2="80.56" y2="736.8" class="c"/><rect x="73.25" y="676.5" width="9.75" height="28.9" class="b"/><line x1="73.25" y1="690.1" x2="83" y2="690.1" class="m"/><path d="M75.83 627.6h4.6M78.12 625.3v4.6" class="o"/>
<line x1="95.18" y1="762.5" x2="100.05" y2="762.5" class="c"/><line x1="95.18" y1="762.5" x2="100.05" y2="762.5" class="c"/><line x1="92.74" y1="762.5" x2="102.49" y2="762.5" class="bl"/><line x1="92.74" y1="762.5" x2="102.49" y2="762.5" class="mf"/>
<line x1="117.11" y1="742.4" x2="117.11" y2="733.3" class="w"/><line x1="117.11" y1="757.6" x2="117.11" y2="749.8" class="w"/><line x1="114.67" y1="733.3" x2="119.54" y2="733.3" class="c"/><line x1="114.67" y1="757.6" x2="119.54" y2="757.6" class="c"/><rect x="112.23" y="742.4" width="9.75" height="7.4" class="b"/><line x1="112.23" y1="747.9" x2="121.98" y2="747.9" class="m"/>
<line x1="134.16" y1="762.5" x2="139.03" y2="762.5" class="c"/><line x1="134.16" y1="762.5" x2="139.03" y2="762.5" class="c"/><line x1="131.72" y1="762.5" x2="141.47" y2="762.5" class="bl"/><line x1="131.72" y1="762.5" x2="141.47" y2="762.5" class="mf"/><path d="M134.29 684.3h4.6M136.59 682v4.6" class="o"/><path d="M134.29 719.2h4.6M136.59 716.9v4.6" class="o"/><path d="M134.29 760.9h4.6M136.59 758.6v4.6" class="o"/>
<line x1="153.65" y1="762.5" x2="158.52" y2="762.5" class="c"/><line x1="153.65" y1="762.5" x2="158.52" y2="762.5" class="c"/><line x1="151.21" y1="762.5" x2="160.96" y2="762.5" class="bl"/><line x1="151.21" y1="762.5" x2="160.96" y2="762.5" class="mf"/><path d="M153.78 669.3h4.6M156.09 667v4.6" class="o"/><path d="M153.78 687.7h4.6M156.09 685.4v4.6" class="o"/><path d="M153.78 693h4.6M156.09 690.7v4.6" class="o"/><path d="M153.78 716.5h4.6M156.09 714.2v4.6" class="o"/>
<line x1="173.14" y1="761.4" x2="178.01" y2="761.4" class="c"/><line x1="173.14" y1="762.2" x2="178.01" y2="762.2" class="c"/><rect x="170.7" y="761.4" width="9.75" height="0.8" class="b"/><line x1="170.7" y1="761.8" x2="180.45" y2="761.8" class="m"/>
<line x1="192.63" y1="762.5" x2="197.5" y2="762.5" class="c"/><line x1="192.63" y1="762.5" x2="197.5" y2="762.5" class="c"/><line x1="190.19" y1="762.5" x2="199.94" y2="762.5" class="bl"/><line x1="190.19" y1="762.5" x2="199.94" y2="762.5" class="mf"/><path d="M192.77 762.8h4.6M195.07 760.5v4.6" class="o"/>
<line x1="212.12" y1="762.5" x2="216.99" y2="762.5" class="c"/><line x1="212.12" y1="762.5" x2="216.99" y2="762.5" class="c"/><line x1="209.68" y1="762.5" x2="219.43" y2="762.5" class="bl"/><line x1="209.68" y1="762.5" x2="219.43" y2="762.5" class="mf"/>
<rect x="29.4" y="621" width="194.9" height="148.2" class="ax"/>
<path d="M39.14 769.2v-2M39.14 621v2M58.64 769.2v-2M58.64 621v2M78.12 769.2v-2M78.12 621v2M97.62 769.2v-2M97.62 621v2M117.11 769.2v-2M117.11 621v2M136.59 769.2v-2M136.59 621v2M156.09 769.2v-2M156.09 621v2M175.58 769.2v-2M175.58 621v2M195.07 769.2v-2M195.07 621v2M214.56 769.2v-2M214.56 621v2M29.4 749.2h2M224.3 749.2h-2M29.4 722.53h2M224.3 722.53h-2M29.4 695.86h2M224.3 695.86h-2M29.4 669.19h2M224.3 669.19h-2M29.4 642.52h2M224.3 642.52h-2" class="tk"/>
<text x="25.8" y="751.7" class="yl" textLength="15.28" lengthAdjust="spacingAndGlyphs">3000</text>
<text x="25.8" y="725.03" class="yl" textLength="15.28" lengthAdjust="spacingAndGlyphs">4000</text>
<text x="25.8" y="698.36" class="yl" textLength="15.28" lengthAdjust="spacingAndGlyphs">5000</text>
<text x="25.8" y="671.69" class="yl" textLength="15.28" lengthAdjust="spacingAndGlyphs">6000</text>
<text x="25.8" y="645.02" class="yl" textLength="15.28" lengthAdjust="spacingAndGlyphs">7000</text>
<text x="43.64" y="778.2" class="xl" transform="rotate(-45 43.64 778.2)">PSO</text>
<text x="63.14" y="778.2" class="xl" transform="rotate(-45 63.14 778.2)">DE</text>
<text x="82.62" y="778.2" class="xl" transform="rotate(-45 82.62 778.2)">GA</text>
<text x="102.12" y="778.2" class="xl" transform="rotate(-45 102.12 778.2)">GOA</text>
<text x="121.61" y="778.2" class="xl" transform="rotate(-45 121.61 778.2)">TGA</text>
<text x="141.09" y="778.2" class="xl" transform="rotate(-45 141.09 778.2)">GWO</text>
<text x="160.59" y="778.2" class="xl" transform="rotate(-45 160.59 778.2)">WOA</text>
<text x="180.08" y="778.2" class="xl" transform="rotate(-45 180.08 778.2)">BWOA</text>
<text x="199.57" y="778.2" class="xl" transform="rotate(-45 199.57 778.2)">FFA</text>
<text x="219.06" y="778.2" class="xl" transform="rotate(-45 219.06 778.2)">DEMFFA</text>
<text x="126.65" y="617.9" class="ti">F10</text>
<text x="6.7" y="695.1" class="yla" transform="rotate(-90 6.7 695.1)">Fitness</text>
<line x1="267.16" y1="740.7" x2="267.16" y2="737.6" class="w"/><line x1="267.16" y1="746.9" x2="267.16" y2="745.4" class="w"/><line x1="264.69" y1="737.6" x2="269.62" y2="737.6" class="c"/><line x1="264.69" y1="746.9" x2="269.62" y2="746.9" class="c"/><rect x="262.23" y="740.7" width="9.85" height="4.7" class="b"/><line x1="262.23" y1="744" x2="272.08" y2="744" class="m"/><path d="M264.86 653.8h4.6M267.16 651.5v4.6" class="o"/><path d="M264.86 655.2h4.6M267.16 652.9v4.6" class="o"/><path d="M264.86 656.7h4.6M267.16 654.4v4.6" class="o"/>
<line x1="286.87" y1="739.7" x2="286.87" y2="735.7" class="w"/><line x1="286.87" y1="744.4" x2="286.87" y2="743.4" class="w"/><line x1="284.4" y1="735.7" x2="289.33" y2="735.7" class="c"/><line x1="284.4" y1="744.4" x2="289.33" y2="744.4" class="c"/><rect x="281.94" y="739.7" width="9.85" height="3.7" class="b"/><line x1="281.94" y1="742.1" x2="291.79" y2="742.1" class="m"/>
<line x1="306.57" y1="657.3" x2="306.57" y2="635.4" class="w"/><line x1="306.57" y1="730" x2="306.57" y2="704.4" class="w"/><line x1="304.11" y1="635.4" x2="309.04" y2="635.4" class="c"/><line x1="304.11" y1="730" x2="309.04" y2="730" class="c"/><rect x="301.65" y="657.3" width="9.85" height="47.1" class="b"/><line x1="301.65" y1="667.6" x2="311.5" y2="667.6" class="m"/>
<line x1="326.28" y1="657.7" x2="326.28" y2="650.9" class="w"/><line x1="326.28" y1="687.7" x2="326.28" y2="679" class="w"/><line x1="323.82" y1="650.9" x2="328.75" y2="650.9" class="c"/><line x1="323.82" y1="687.7" x2="328.75" y2="687.7" class="c"/><rect x="321.36" y="657.7" width="9.85" height="21.3" class="b"/><line x1="321.36" y1="664.7" x2="331.21" y2="664.7" class="m"/>
<line x1="346" y1="739.2" x2="346" y2="738.2" class="w"/><line x1="343.53" y1="733.7" x2="348.46" y2="733.7" class="c"/><line x1="343.53" y1="739.2" x2="348.46" y2="739.2" class="c"/><rect x="341.07" y="734.3" width="9.85" height="3.9" class="b"/><line x1="341.07" y1="736.2" x2="350.92" y2="736.2" class="m"/>
<line x1="365.7" y1="751.8" x2="365.7" y2="748.9" class="w"/><line x1="365.7" y1="760.9" x2="365.7" y2="756.2" class="w"/><line x1="363.24" y1="748.9" x2="368.17" y2="748.9" class="c"/><line x1="363.24" y1="760.9" x2="368.17" y2="760.9" class="c"/><rect x="360.78" y="751.8" width="9.85" height="4.4" class="b"/><line x1="360.78" y1="754.3" x2="370.63" y2="754.3" class="m"/>
<line x1="385.41" y1="756" x2="385.41" y2="755.2" class="w"/><line x1="382.95" y1="755.2" x2="387.88" y2="755.2" class="c"/><line x1="382.95" y1="758.5" x2="387.88" y2="758.5" class="c"/><rect x="380.49" y="756" width="9.85" height="2.2" class="b"/><line x1="380.49" y1="757.2" x2="390.34" y2="757.2" class="m"/><path d="M383.11 670.9h4.6M385.41 668.6v4.6" class="o"/>
<line x1="405.12" y1="644.5" x2="405.12" y2="642.5" class="w"/><line x1="405.12" y1="737.2" x2="405.12" y2="704.2" class="w"/><line x1="402.66" y1="642.5" x2="407.59" y2="642.5" class="c"/><line x1="402.66" y1="737.2" x2="407.59" y2="737.2" class="c"/><rect x="400.2" y="644.5" width="9.85" height="59.7" class="b"/><line x1="400.2" y1="647.4" x2="410.05" y2="647.4" class="m"/>
<line x1="422.37" y1="666" x2="427.3" y2="666" class="c"/><line x1="422.37" y1="669.3" x2="427.3" y2="669.3" class="c"/><rect x="419.91" y="666.4" width="9.85" height="2.5" class="b"/><line x1="419.91" y1="667.4" x2="429.76" y2="667.4" class="m"/><path d="M422.53 698h4.6M424.83 695.7v4.6" class="o"/>
<line x1="444.54" y1="760.1" x2="444.54" y2="735.3" class="w"/><line x1="442.08" y1="665" x2="447.01" y2="665" class="c"/><line x1="442.08" y1="760.1" x2="447.01" y2="760.1" class="c"/><rect x="439.62" y="665.4" width="9.85" height="69.9" class="b"/><line x1="439.62" y1="706.2" x2="449.47" y2="706.2" class="m"/>
<rect x="257.3" y="619.8" width="197.1" height="147.5" class="ax"/>
<path d="M267.16 767.3v-2M267.16 619.8v2M286.87 767.3v-2M286.87 619.8v2M306.57 767.3v-2M306.57 619.8v2M326.28 767.3v-2M326.28 619.8v2M346 767.3v-2M346 619.8v2M365.7 767.3v-2M365.7 619.8v2M385.41 767.3v-2M385.41 619.8v2M405.12 767.3v-2M405.12 619.8v2M424.83 767.3v-2M424.83 619.8v2M444.54 767.3v-2M444.54 619.8v2M257.3 760.9h2M454.4 760.9h-2M257.3 739h2M454.4 739h-2M257.3 717.1h2M454.4 717.1h-2M257.3 695.2h2M454.4 695.2h-2M257.3 673.3h2M454.4 673.3h-2M257.3 651.4h2M454.4 651.4h-2M257.3 629.5h2M454.4 629.5h-2" class="tk"/>
<text x="253.7" y="763.4" class="yl" textLength="15.28" lengthAdjust="spacingAndGlyphs">2600</text>
<text x="253.7" y="741.5" class="yl" textLength="15.28" lengthAdjust="spacingAndGlyphs">2650</text>
<text x="253.7" y="719.6" class="yl" textLength="15.28" lengthAdjust="spacingAndGlyphs">2700</text>
<text x="253.7" y="697.7" class="yl" textLength="15.28" lengthAdjust="spacingAndGlyphs">2750</text>
<text x="253.7" y="675.8" class="yl" textLength="15.28" lengthAdjust="spacingAndGlyphs">2800</text>
<text x="253.7" y="653.9" class="yl" textLength="15.28" lengthAdjust="spacingAndGlyphs">2850</text>
<text x="253.7" y="632" class="yl" textLength="15.28" lengthAdjust="spacingAndGlyphs">2900</text>
<text x="271.66" y="776.3" class="xl" transform="rotate(-45 271.66 776.3)">PSO</text>
<text x="291.37" y="776.3" class="xl" transform="rotate(-45 291.37 776.3)">DE</text>
<text x="311.07" y="776.3" class="xl" transform="rotate(-45 311.07 776.3)">GA</text>
<text x="330.78" y="776.3" class="xl" transform="rotate(-45 330.78 776.3)">GOA</text>
<text x="350.5" y="776.3" class="xl" transform="rotate(-45 350.5 776.3)">TGA</text>
<text x="370.2" y="776.3" class="xl" transform="rotate(-45 370.2 776.3)">GWO</text>
<text x="389.91" y="776.3" class="xl" transform="rotate(-45 389.91 776.3)">WOA</text>
<text x="409.62" y="776.3" class="xl" transform="rotate(-45 409.62 776.3)">BWOA</text>
<text x="429.33" y="776.3" class="xl" transform="rotate(-45 429.33 776.3)">FFA</text>
<text x="449.04" y="776.3" class="xl" transform="rotate(-45 449.04 776.3)">DEMFFA</text>
<text x="355.65" y="616.7" class="ti">F11</text>
<text x="236" y="693.55" class="yla" transform="rotate(-90 236 693.55)">Fitness</text>
<line x1="493.65" y1="646.5" x2="498.56" y2="646.5" class="c"/><line x1="493.65" y1="646.5" x2="498.56" y2="646.5" class="c"/><line x1="491.2" y1="646.5" x2="501.01" y2="646.5" class="bl"/><line x1="491.2" y1="646.5" x2="501.01" y2="646.5" class="mf"/><path d="M493.81 625.7h4.6M496.11 623.4v4.6" class="o"/><path d="M493.81 627.2h4.6M496.11 624.9v4.6" class="o"/><path d="M493.81 628.6h4.6M496.11 626.3v4.6" class="o"/><path d="M493.81 630.1h4.6M496.11 627.8v4.6" class="o"/><path d="M493.81 639.4h4.6M496.11 637.1v4.6" class="o"/>
<line x1="513.26" y1="645.8" x2="518.17" y2="645.8" class="c"/><line x1="513.26" y1="647.2" x2="518.17" y2="647.2" class="c"/><rect x="510.81" y="645.8" width="9.8" height="1.4" class="b"/><line x1="510.81" y1="646.4" x2="520.62" y2="646.4" class="m"/>
<line x1="535.33" y1="640.2" x2="535.33" y2="637.9" class="w"/><line x1="535.33" y1="648.4" x2="535.33" y2="645.5" class="w"/><line x1="532.87" y1="637.9" x2="537.78" y2="637.9" class="c"/><line x1="532.87" y1="648.4" x2="537.78" y2="648.4" class="c"/><rect x="530.42" y="640.2" width="9.8" height="5.3" class="b"/><line x1="530.42" y1="643.1" x2="540.23" y2="643.1" class="m"/>
<line x1="554.93" y1="639.4" x2="554.93" y2="637.5" class="w"/><line x1="554.93" y1="645.3" x2="554.93" y2="642.5" class="w"/><line x1="552.48" y1="637.5" x2="557.39" y2="637.5" class="c"/><line x1="552.48" y1="645.3" x2="557.39" y2="645.3" class="c"/><rect x="550.03" y="639.4" width="9.8" height="3.1" class="b"/><line x1="550.03" y1="640.8" x2="559.84" y2="640.8" class="m"/><path d="M552.63 635h4.6M554.93 632.7v4.6" class="o"/>
<line x1="572.09" y1="647.5" x2="577" y2="647.5" class="c"/><line x1="572.09" y1="647.5" x2="577" y2="647.5" class="c"/><line x1="569.64" y1="647.5" x2="579.45" y2="647.5" class="bl"/><line x1="569.64" y1="647.5" x2="579.45" y2="647.5" class="mf"/><path d="M572.25 647.2h4.6M574.54 644.9v4.6" class="o"/>
<line x1="591.7" y1="645.3" x2="596.61" y2="645.3" class="c"/><line x1="591.7" y1="647.4" x2="596.61" y2="647.4" class="c"/><rect x="589.25" y="645.8" width="9.8" height="1.6" class="b"/><line x1="589.25" y1="646.6" x2="599.06" y2="646.6" class="m"/>
<line x1="611.31" y1="647.5" x2="616.22" y2="647.5" class="c"/><line x1="611.31" y1="647.5" x2="616.22" y2="647.5" class="c"/><line x1="608.86" y1="647.5" x2="618.67" y2="647.5" class="bl"/><line x1="608.86" y1="647.5" x2="618.67" y2="647.5" class="mf"/><path d="M611.47 647.4h4.6M613.76 645.1v4.6" class="o"/>
<line x1="630.92" y1="646.5" x2="635.83" y2="646.5" class="c"/><line x1="630.92" y1="646.5" x2="635.83" y2="646.5" class="c"/><line x1="628.47" y1="646.5" x2="638.28" y2="646.5" class="bl"/><line x1="628.47" y1="646.5" x2="638.28" y2="646.5" class="mf"/><path d="M631.08 646.5h4.6M633.38 644.2v4.6" class="o"/>
<line x1="650.53" y1="647.5" x2="655.44" y2="647.5" class="c"/><line x1="650.53" y1="647.5" x2="655.44" y2="647.5" class="c"/><line x1="648.08" y1="647.5" x2="657.89" y2="647.5" class="bl"/><line x1="648.08" y1="647.5" x2="657.89" y2="647.5" class="mf"/>
<line x1="670.14" y1="761.5" x2="675.05" y2="761.5" class="c"/><line x1="670.14" y1="761.5" x2="675.05" y2="761.5" class="c"/><line x1="667.69" y1="761.5" x2="677.5" y2="761.5" class="bl"/><line x1="667.69" y1="761.5" x2="677.5" y2="761.5" class="mf"/>
<rect x="486.3" y="618.9" width="196.1" height="149.6" class="ax"/>
<path d="M496.11 768.5v-2M496.11 618.9v2M515.72 768.5v-2M515.72 618.9v2M535.33 768.5v-2M535.33 618.9v2M554.93 768.5v-2M554.93 618.9v2M574.54 768.5v-2M574.54 618.9v2M594.15 768.5v-2M594.15 618.9v2M613.76 768.5v-2M613.76 618.9v2M633.38 768.5v-2M633.38 618.9v2M652.99 768.5v-2M652.99 618.9v2M672.6 768.5v-2M672.6 618.9v2M486.3 762h2M682.4 762h-2M486.3 741.12h2M682.4 741.12h-2M486.3 720.24h2M682.4 720.24h-2M486.3 699.36h2M682.4 699.36h-2M486.3 678.48h2M682.4 678.48h-2M486.3 657.6h2M682.4 657.6h-2M486.3 636.72h2M682.4 636.72h-2" class="tk"/>
<text x="482.7" y="764.5" class="yl" textLength="15.28" lengthAdjust="spacingAndGlyphs">2900</text>
<text x="482.7" y="743.62" class="yl" textLength="15.28" lengthAdjust="spacingAndGlyphs">2910</text>
<text x="482.7" y="722.74" class="yl" textLength="15.28" lengthAdjust="spacingAndGlyphs">2920</text>
<text x="482.7" y="701.86" class="yl" textLength="15.28" lengthAdjust="spacingAndGlyphs">2930</text>
<text x="482.7" y="680.98" class="yl" textLength="15.28" lengthAdjust="spacingAndGlyphs">2940</text>
<text x="482.7" y="660.1" class="yl" textLength="15.28" lengthAdjust="spacingAndGlyphs">2950</text>
<text x="482.7" y="639.22" class="yl" textLength="15.28" lengthAdjust="spacingAndGlyphs">2960</text>
<text x="500.61" y="777.5" class="xl" transform="rotate(-45 500.61 777.5)">PSO</text>
<text x="520.22" y="777.5" class="xl" transform="rotate(-45 520.22 777.5)">DE</text>
<text x="539.83" y="777.5" class="xl" transform="rotate(-45 539.83 777.5)">GA</text>
<text x="559.43" y="777.5" class="xl" transform="rotate(-45 559.43 777.5)">GOA</text>
<text x="579.04" y="777.5" class="xl" transform="rotate(-45 579.04 777.5)">TGA</text>
<text x="598.65" y="777.5" class="xl" transform="rotate(-45 598.65 777.5)">GWO</text>
<text x="618.26" y="777.5" class="xl" transform="rotate(-45 618.26 777.5)">WOA</text>
<text x="637.88" y="777.5" class="xl" transform="rotate(-45 637.88 777.5)">BWOA</text>
<text x="657.49" y="777.5" class="xl" transform="rotate(-45 657.49 777.5)">FFA</text>
<text x="677.1" y="777.5" class="xl" transform="rotate(-45 677.1 777.5)">DEMFFA</text>
<text x="584.15" y="615.8" class="ti">F12</text>
<text x="463.4" y="693.7" class="yla" transform="rotate(-90 463.4 693.7)">Fitness</text>
</svg>
</body></html>
